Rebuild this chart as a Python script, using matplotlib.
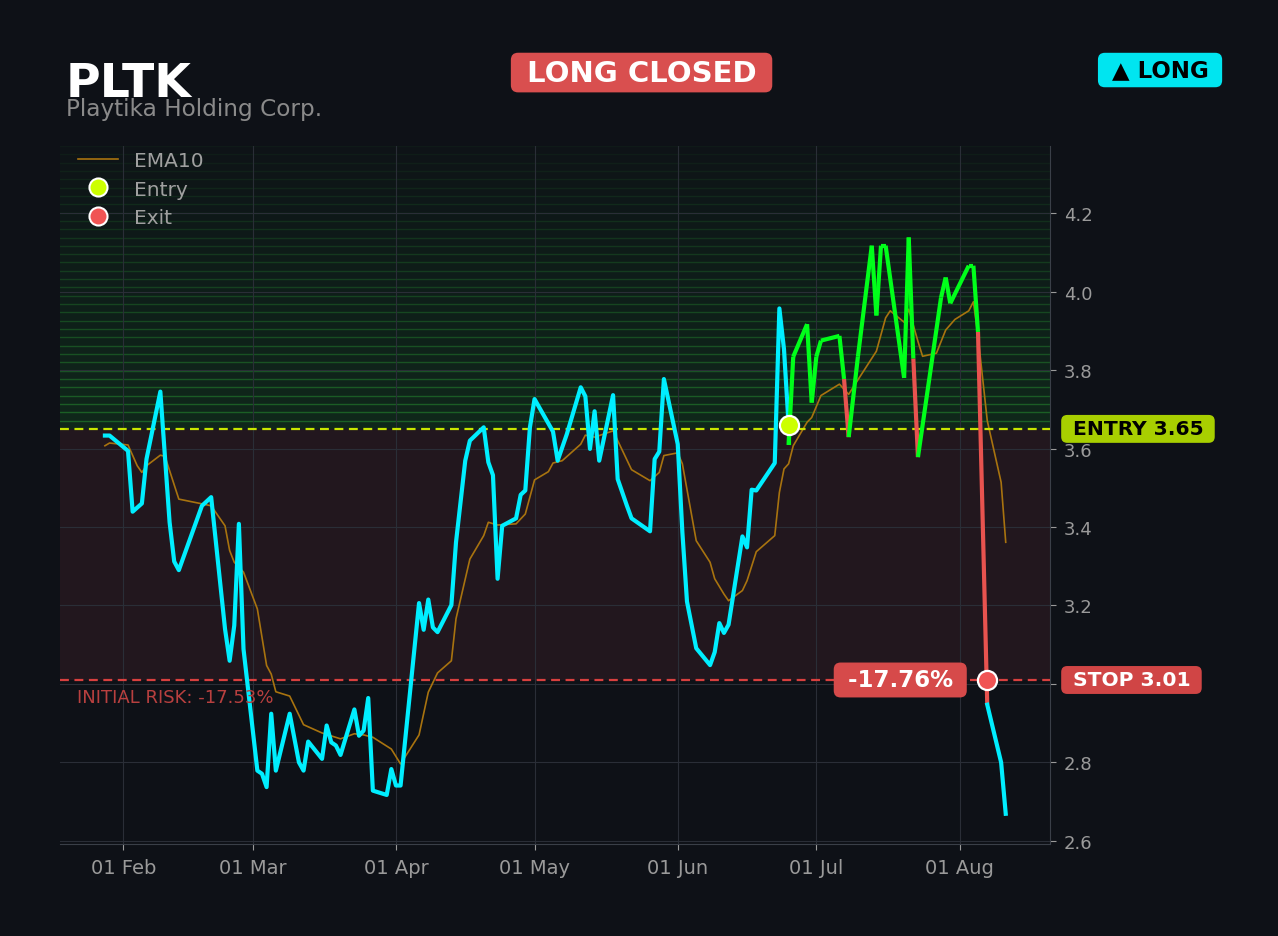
import numpy as np
import pandas as pd
import matplotlib
matplotlib.use("Agg")
import matplotlib.pyplot as plt
import matplotlib.dates as mdates
from matplotlib.lines import Line2D

# ---- data ----
ticker = "PLTK"
company = "Playtika Holding Corp."
status = "LONG CLOSED"
side = "\u25B2 LONG"

entry_level = 3.65
entry_fill = 3.66
stop_level = 3.01
entry_date = "2025-06-25"
exit_date = "2025-08-07"

pre_dates = ["2025-01-28", "2025-01-29", "2025-02-02", "2025-02-03", "2025-02-05",
             "2025-02-06", "2025-02-09", "2025-02-11", "2025-02-12", "2025-02-13",
             "2025-02-18", "2025-02-20", "2025-02-23", "2025-02-24", "2025-02-25",
             "2025-02-26", "2025-02-27", "2025-03-02", "2025-03-03", "2025-03-04",
             "2025-03-05", "2025-03-06", "2025-03-09", "2025-03-11", "2025-03-12",
             "2025-03-13", "2025-03-16", "2025-03-17", "2025-03-18", "2025-03-19",
             "2025-03-20", "2025-03-23", "2025-03-24", "2025-03-25", "2025-03-26",
             "2025-03-27", "2025-03-30", "2025-03-31", "2025-04-01", "2025-04-02",
             "2025-04-06", "2025-04-07", "2025-04-08", "2025-04-09", "2025-04-10",
             "2025-04-13", "2025-04-14", "2025-04-16", "2025-04-17", "2025-04-20",
             "2025-04-21", "2025-04-22", "2025-04-23", "2025-04-24", "2025-04-27",
             "2025-04-28", "2025-04-29", "2025-04-30", "2025-05-01", "2025-05-05",
             "2025-05-06", "2025-05-08", "2025-05-11", "2025-05-12", "2025-05-13",
             "2025-05-14", "2025-05-15", "2025-05-18", "2025-05-19", "2025-05-21",
             "2025-05-22", "2025-05-26", "2025-05-27", "2025-05-28", "2025-05-29",
             "2025-06-01", "2025-06-02", "2025-06-03", "2025-06-05", "2025-06-08",
             "2025-06-09", "2025-06-10", "2025-06-11", "2025-06-12", "2025-06-15",
             "2025-06-16", "2025-06-17", "2025-06-18", "2025-06-22", "2025-06-23",
             "2025-06-24"]
pre_close = [3.633, 3.633, 3.594, 3.439, 3.460, 3.573, 3.745, 3.412, 3.312, 3.290,
             3.454, 3.476, 3.140, 3.059, 3.149, 3.408, 3.089, 2.779, 2.771, 2.737,
             2.924, 2.779, 2.924, 2.800, 2.779, 2.853, 2.809, 2.894, 2.851, 2.843,
             2.819, 2.935, 2.868, 2.881, 2.964, 2.728, 2.717, 2.783, 2.741, 2.741,
             3.206, 3.138, 3.215, 3.144, 3.132, 3.201, 3.361, 3.569, 3.620, 3.654,
             3.565, 3.532, 3.268, 3.403, 3.422, 3.482, 3.493, 3.654, 3.726, 3.643,
             3.569, 3.637, 3.756, 3.733, 3.599, 3.695, 3.569, 3.736, 3.522, 3.454,
             3.422, 3.389, 3.573, 3.592, 3.777, 3.611, 3.387, 3.210, 3.091, 3.048,
             3.081, 3.155, 3.130, 3.151, 3.376, 3.348, 3.495, 3.493, 3.563, 3.957,
             3.853]

trade_dates = ["2025-06-25", "2025-06-26", "2025-06-29", "2025-06-30", "2025-07-01",
               "2025-07-02", "2025-07-06", "2025-07-07", "2025-07-08", "2025-07-10",
               "2025-07-13", "2025-07-14", "2025-07-15", "2025-07-16", "2025-07-20",
               "2025-07-21", "2025-07-22", "2025-07-23", "2025-07-28", "2025-07-29",
               "2025-07-30", "2025-08-03", "2025-08-04", "2025-08-05", "2025-08-07"]
trade_close = [3.609, 3.834, 3.917, 3.717, 3.834, 3.875, 3.887, 3.777, 3.629, 3.834,
               4.117, 3.939, 4.117, 4.117, 3.780, 4.138, 3.829, 3.578, 3.985, 4.036,
               3.970, 4.066, 4.066, 3.897, 2.947]
below_ema = [False, False, False, False, False, False, False, True, True, False,
             False, False, False, False, True, False, True, True, False, False,
             False, False, False, True, True]

post_dates = ["2025-08-07", "2025-08-10", "2025-08-11"]
post_close = [2.947, 2.800, 2.669]

ema_dates = ["2025-01-28", "2025-01-29", "2025-02-02", "2025-02-04", "2025-02-05",
             "2025-02-06", "2025-02-09", "2025-02-10", "2025-02-13", "2025-02-18",
             "2025-02-20", "2025-02-23", "2025-02-24", "2025-02-25", "2025-02-27",
             "2025-03-02", "2025-03-04", "2025-03-05", "2025-03-06", "2025-03-09",
             "2025-03-12", "2025-03-16", "2025-03-20", "2025-03-23", "2025-03-25",
             "2025-03-27", "2025-03-31", "2025-04-02", "2025-04-06", "2025-04-08",
             "2025-04-10", "2025-04-13", "2025-04-14", "2025-04-17", "2025-04-20",
             "2025-04-21", "2025-04-23", "2025-04-27", "2025-04-29", "2025-05-01",
             "2025-05-04", "2025-05-05", "2025-05-07", "2025-05-11", "2025-05-12",
             "2025-05-14", "2025-05-18", "2025-05-22", "2025-05-26", "2025-05-28",
             "2025-05-29", "2025-06-01", "2025-06-02", "2025-06-05", "2025-06-08",
             "2025-06-09", "2025-06-11", "2025-06-12", "2025-06-15", "2025-06-16",
             "2025-06-18", "2025-06-22", "2025-06-23", "2025-06-24", "2025-06-25",
             "2025-06-26", "2025-06-29", "2025-06-30", "2025-07-02", "2025-07-06",
             "2025-07-08", "2025-07-10", "2025-07-14", "2025-07-16", "2025-07-17",
             "2025-07-20", "2025-07-21", "2025-07-23", "2025-07-24", "2025-07-27",
             "2025-07-29", "2025-07-31", "2025-08-03", "2025-08-04", "2025-08-05",
             "2025-08-07", "2025-08-10", "2025-08-11"]
ema_vals = [3.607, 3.614, 3.609, 3.556, 3.539, 3.556, 3.583, 3.580, 3.471, 3.459,
            3.454, 3.403, 3.340, 3.310, 3.285, 3.191, 3.047, 3.025, 2.980, 2.969,
            2.896, 2.875, 2.860, 2.873, 2.870, 2.864, 2.834, 2.796, 2.870, 2.979,
            3.028, 3.059, 3.166, 3.318, 3.378, 3.412, 3.405, 3.408, 3.433, 3.520,
            3.541, 3.563, 3.569, 3.611, 3.634, 3.629, 3.645, 3.546, 3.518, 3.539,
            3.582, 3.589, 3.561, 3.365, 3.310, 3.268, 3.229, 3.212, 3.238, 3.263,
            3.337, 3.378, 3.488, 3.548, 3.561, 3.607, 3.667, 3.679, 3.735, 3.764,
            3.738, 3.775, 3.848, 3.933, 3.951, 3.922, 3.955, 3.873, 3.835, 3.843,
            3.902, 3.929, 3.951, 3.974, 3.887, 3.671, 3.514, 3.361]

# ---- style ----
BG = "#0e1117"
CYAN = "#00eeff"
GREEN = "#00ff1a"
RED = "#e8534f"
EMA_C = "#a8730f"
ENTRY_C = "#c8e600"
STOP_C = "#d8403f"
GRID_C = "#2a2e37"

plt.rcParams["font.family"] = ["DejaVu Sans"]

fig = plt.figure(figsize=(12.78, 9.37), dpi=100, facecolor=BG)
ax = fig.add_axes([0.047, 0.0982, 0.7746, 0.7449])
ax.set_facecolor(BG)

ytop, ybot = 4.371, 2.592
ax.set_ylim(ybot, ytop)
ax.set_xlim(pd.Timestamp("2025-01-18 07:00"), pd.Timestamp("2025-08-20 14:00"))

# risk zone and green "profit" stripes
ax.axhspan(stop_level, entry_level, facecolor="#22171e", zorder=0.1)
n_bands = 34
edges = np.linspace(entry_level, ytop, n_bands + 1)
for k in range(n_bands):
    fade = 1 - k / n_bands
    ax.axhspan(edges[k], edges[k + 1], facecolor=(0.08, 0.47, 0.16, 0.20 * fade + 0.02),
               lw=0, zorder=0.1)
    ax.axhline(edges[k + 1], color=(0.16, 0.62, 0.2, 0.45 * fade + 0.04), lw=1.0, zorder=0.2)

ax.set_axisbelow(True)
ax.grid(True, color=GRID_C, lw=0.8)

# price lines
pre_x = pd.to_datetime(pre_dates + [entry_date])
pre_y = pre_close + [entry_fill]
ax.plot(pd.to_datetime(ema_dates), ema_vals, color=EMA_C, lw=1.2, zorder=3)
ax.plot(pre_x, pre_y, color=CYAN, lw=3, zorder=4)

tx = pd.to_datetime([entry_date] + trade_dates)
ty = [entry_fill] + trade_close
flags = [False] + below_ema
for i in range(len(tx) - 1):
    c = RED if (flags[i] and flags[i + 1]) else GREEN
    ax.plot(tx[i:i + 2], ty[i:i + 2], color=c, lw=3, zorder=4, solid_capstyle="butt")

ax.plot(pd.to_datetime(post_dates), post_close, color=CYAN, lw=3, zorder=4)

# entry / stop levels
ax.axhline(entry_level, color=ENTRY_C, ls=(0, (4, 2.5)), lw=1.6, zorder=3)
ax.axhline(stop_level, color=STOP_C, ls=(0, (4, 2.5)), lw=1.6, zorder=3)

ax.scatter(pd.Timestamp(entry_date), entry_fill, s=190, color="#ccff00",
           edgecolor="white", lw=1.6, zorder=6)
ax.scatter(pd.Timestamp(exit_date), stop_level, s=190, color="#f05454",
           edgecolor="white", lw=1.6, zorder=6)

risk_pct = (stop_level / entry_level - 1) * 100
result_pct = (stop_level / entry_fill - 1) * 100

ax.text(0.017, 2.967, f"INITIAL RISK: {risk_pct:.2f}%", color="#b8403f",
        fontsize=13, va="center", ha="left", transform=ax.get_yaxis_transform(), zorder=5)

ax.annotate(f" {result_pct:.2f}% ", xy=(pd.Timestamp(exit_date), stop_level),
            xytext=(-87, 0), textcoords="offset pixels", ha="center", va="center",
            color="white", fontsize=16.5, fontweight="bold", zorder=7,
            bbox=dict(boxstyle="round,pad=0.26,rounding_size=0.3", fc="#d64a4a", ec="none"))

ytrans = ax.get_yaxis_transform()
ax.text(1.0158, entry_level, " ENTRY 3.65 ", transform=ytrans, ha="left", va="center",
        fontsize=14.6, fontweight="bold", color="black", zorder=8, clip_on=False,
        bbox=dict(boxstyle="round,pad=0.22,rounding_size=0.3", fc="#a8cf00", ec="none"))
ax.text(1.0158, stop_level, " STOP 3.01 ", transform=ytrans, ha="left", va="center",
        fontsize=14.6, fontweight="bold", color="white", zorder=8, clip_on=False,
        bbox=dict(boxstyle="round,pad=0.22,rounding_size=0.3", fc="#d04545", ec="none"))

# axes cosmetics
ax.yaxis.tick_right()
ax.set_yticks(np.arange(2.6, 4.21, 0.2))
ax.yaxis.set_major_formatter(plt.FormatStrFormatter("%.1f"))
ax.xaxis.set_major_locator(mdates.MonthLocator(bymonthday=1))
ax.xaxis.set_major_formatter(mdates.DateFormatter("%d %b"))
ax.tick_params(axis="y", colors="#9a9a9a", labelsize=13, length=4, pad=6)
ax.tick_params(axis="x", colors="#9a9a9a", labelsize=14, length=4, pad=6)
for s in ["left", "top"]:
    ax.spines[s].set_visible(False)
for s in ["right", "bottom"]:
    ax.spines[s].set_color("#3a3f48")

handles = [Line2D([], [], color=EMA_C, lw=1.2),
           Line2D([], [], marker="o", ls="", mfc="#ccff00", mec="white", ms=13, mew=1.5),
           Line2D([], [], marker="o", ls="", mfc="#f05454", mec="white", ms=13, mew=1.5)]
leg = ax.legend(handles, ["EMA10", "Entry", "Exit"], loc="upper left",
                bbox_to_anchor=(0.013, 1.0), borderaxespad=0, borderpad=0.25,
                frameon=False, fontsize=14.5, labelcolor="#a0a0a0",
                handlelength=2.0, handletextpad=0.8, labelspacing=0.47)
leg.set_zorder(9)

# header
fig.text(0.0516, 0.8965, ticker, color="white", fontsize=34, fontweight="bold", va="baseline")
fig.text(0.0516, 0.8762, company, color="#8a8a8a", fontsize=16.7, va="baseline")
fig.text(0.502, 0.9215, f" {status} ", color="white", fontsize=21, fontweight="bold",
         ha="center", va="center",
         bbox=dict(boxstyle="round,pad=0.2,rounding_size=0.25", fc="#d94f4f", ec="none"))
fig.text(0.9077, 0.9242, f" {side} ", color="black", fontsize=16.5, fontweight="bold",
         ha="center", va="center",
         bbox=dict(boxstyle="round,pad=0.25,rounding_size=0.3", fc="#00e5f0", ec="none"))

fig.savefig("out.png", dpi=100, facecolor=BG)
